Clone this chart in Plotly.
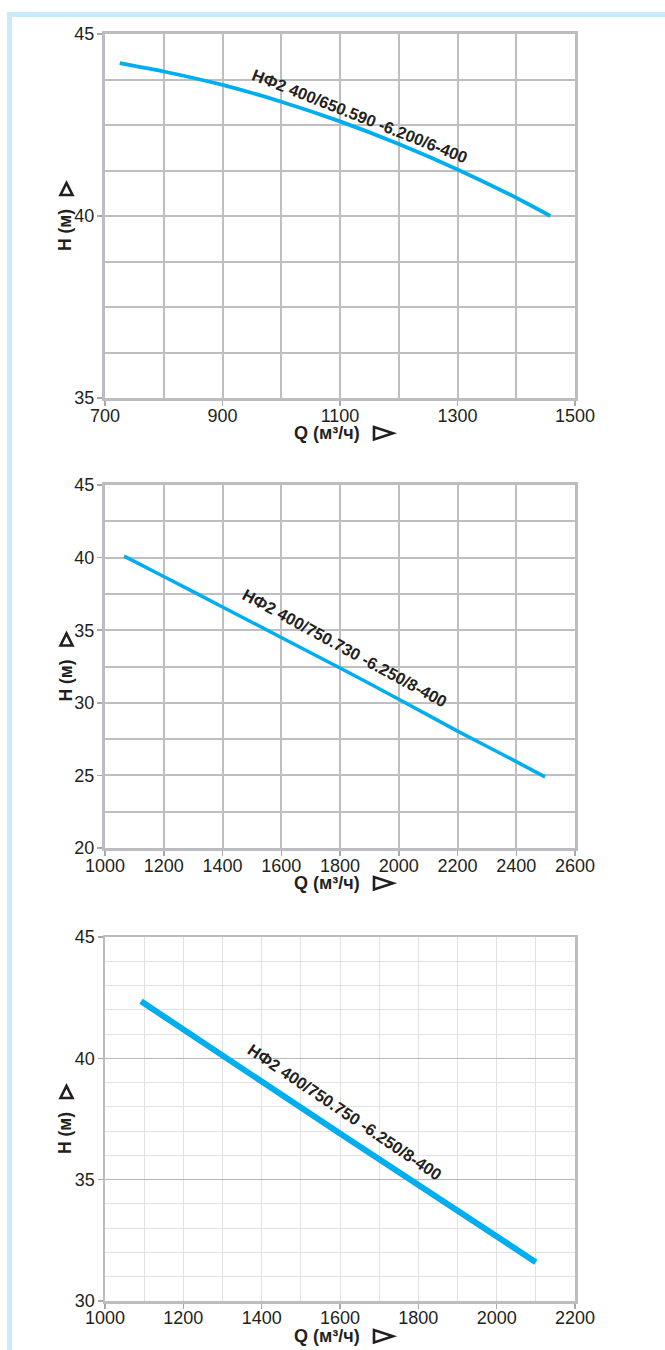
import plotly.graph_objects as go

W, H = 665, 1350

# ---- data ----
q1 = [725, 800, 900, 1000, 1100, 1200, 1300, 1400, 1458]
h1 = [44.2, 43.97, 43.6, 43.14, 42.6, 41.98, 41.28, 40.5, 40.0]
label1 = "НФ2 400/650.590 -6.200/6-400"

q2 = [1065, 1200, 1400, 1600, 1800, 2000, 2200, 2400, 2498]
h2 = [40.1, 38.7, 36.6, 34.5, 32.4, 30.25, 28.05, 25.95, 24.9]
label2 = "НФ2 400/750.730 -6.250/8-400"

q3 = [1092, 1600, 2100]
h3 = [42.35, 36.9, 31.6]
label3 = "НФ2 400/750.750 -6.250/8-400"

x_title = "Q (м³/ч)"
y_title = "H (м)"

def px(x):
    return x / W

def py(y):
    return 1 - y / H

FONT = "Liberation Sans, Arial, sans-serif"
TICKC = "#231f20"
CURVE = "#00aeef"

fig = go.Figure()

panels = [
    dict(q=q1, h=h1, xr=[700, 1500], yr=[35, 45], xd=200, xg=100, yd=5, yg=1.25,
         box=(105, 575, 34, 398), label=label1, lpos=(360, 116), ang=21.5, lw=3.8, light=False),
    dict(q=q2, h=h2, xr=[1000, 2600], yr=[20, 45], xd=200, xg=200, yd=5, yg=2.5,
         box=(105, 575, 485, 848), label=label2, lpos=(345, 648), ang=28.5, lw=3.5, light=False),
    dict(q=q3, h=h3, xr=[1000, 2200], yr=[30, 45], xd=200, xg=100, yd=5, yg=1,
         box=(105, 575, 937, 1301), label=label3, lpos=(345, 1112), ang=34, lw=6, light=True),
]

layout = dict(
    width=W, height=H, margin=dict(l=0, r=0, t=0, b=0, pad=0, autoexpand=False),
    paper_bgcolor="white", plot_bgcolor="white", showlegend=False,
    font=dict(family=FONT, color=TICKC),
)
annotations = []
shapes = []

def ann(text, x, y, size, angle=0):
    annotations.append(dict(text=text, x=px(x), y=py(y), xref="paper", yref="paper",
                            showarrow=False, textangle=angle, xanchor="center", yanchor="middle",
                            font=dict(size=size, color="#231f20", family=FONT)))

def tri(pts):
    d = "M " + " L ".join(f"{px(x):.5f},{py(y):.5f}" for x, y in pts) + " Z"
    shapes.append(dict(type="path", xref="paper", yref="paper", path=d,
                       line=dict(color="#231f20", width=2.6), fillcolor="rgba(0,0,0,0)"))

for i, p in enumerate(panels, start=1):
    xa = "x" if i == 1 else f"x{i}"
    ya = "y" if i == 1 else f"y{i}"
    l, r, t, b = p["box"]
    fig.add_trace(go.Scatter(x=p["q"], y=p["h"], mode="lines",
                             line=dict(color=CURVE, width=p["lw"], shape="spline", smoothing=0.6),
                             xaxis=xa, yaxis=ya, hoverinfo="skip"))
    if p["light"]:
        gmaj, gmin, gw_maj, gw_min, lc, lw = "#b8b8bc", "#e2e2e4", 1.5, 1, "#bdbdc1", 2.5
        xgridc, xgridw = "#e2e2e4", 1
    else:
        gmaj, gmin, gw_maj, gw_min, lc, lw = "#bfbfc3", "#bfbfc3", 2, 2, "#bdbdc1", 3
        xgridc, xgridw = "#bfbfc3", 2
    layout["xaxis" + ("" if i == 1 else str(i))] = dict(
        domain=[px(l), px(r)], range=p["xr"], anchor=ya, automargin=False,
        tickmode="linear", tick0=p["xr"][0], dtick=p["xd"],
        showgrid=True, gridcolor=xgridc, gridwidth=xgridw,
        minor=dict(dtick=p["xg"], tick0=p["xr"][0], showgrid=True, gridcolor=xgridc, gridwidth=xgridw, ticks=""),
        showline=True, linecolor=lc, linewidth=lw, mirror=True,
        ticks="outside", ticklen=5, tickcolor="#a9a9ad", tickwidth=1.5, ticklabelstandoff=-6,
        tickfont=dict(size=18, color=TICKC, family=FONT), zeroline=False, fixedrange=True,
    )
    layout["yaxis" + ("" if i == 1 else str(i))] = dict(
        domain=[py(b), py(t)], range=p["yr"], anchor=xa, automargin=False,
        tickmode="linear", tick0=p["yr"][0], dtick=p["yd"],
        showgrid=True, gridcolor=gmaj, gridwidth=gw_maj,
        minor=dict(dtick=p["yg"], tick0=p["yr"][0], showgrid=True, gridcolor=gmin, gridwidth=gw_min, ticks=""),
        showline=True, linecolor=lc, linewidth=lw, mirror=True,
        ticks="outside", ticklen=5, tickcolor="#a9a9ad", tickwidth=1.5, ticklabelstandoff=-1,
        tickfont=dict(size=18, color=TICKC, family=FONT), zeroline=False, fixedrange=True,
    )
    ann("<b>" + p["label"] + "</b>", p["lpos"][0], p["lpos"][1], 16.5, p["ang"])
    ann("<b>" + x_title + "</b>", 327, b + 35, 18)
    tri([(374, b + 29), (374, b + 41.5), (393, b + 35.2)])
    mid = (t + b) / 2
    ann("<b>" + y_title + "</b>", 65, mid + 14, 17.5, -90)
    tri([(60.5, mid - 21), (72.5, mid - 21), (66.5, mid - 33)])

shapes.append(dict(type="rect", xref="paper", yref="paper", x0=px(7), x1=1.0, y0=py(17), y1=py(12),
                   fillcolor="#c8ebfa", line=dict(width=0), layer="below"))
shapes.append(dict(type="rect", xref="paper", yref="paper", x0=px(7), x1=px(12), y0=0, y1=py(12),
                   fillcolor="#c8ebfa", line=dict(width=0), layer="below"))

layout["annotations"] = annotations
layout["shapes"] = shapes
fig.update_layout(**layout)

fig.write_html("out.html", config={"displayModeBar": False, "staticPlot": True},
               post_script="document.body.style.margin='0';")
